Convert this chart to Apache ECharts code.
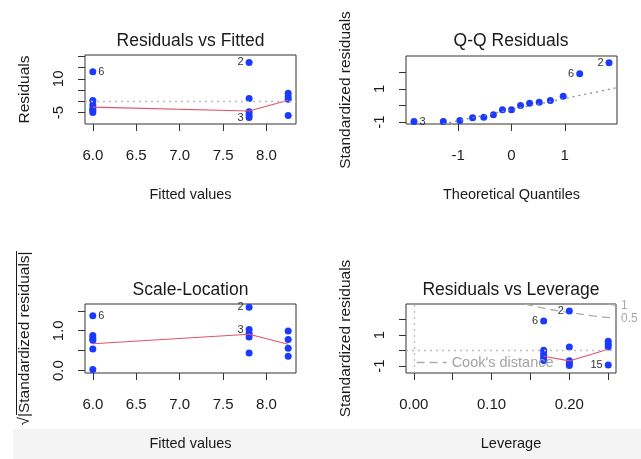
<!DOCTYPE html>
<html><head><meta charset="utf-8">
<script src="https://cdn.jsdelivr.net/npm/echarts@6/dist/echarts.min.js"></script>
<style>html,body{margin:0;padding:0;background:#fff}#c{width:641px;height:459px}</style>
</head><body><div id="c"></div>
<script>
// ---------------- data ----------------
// Panel 1: Residuals vs Fitted
const rvfX = [6.0, 6.0, 6.0, 6.0, 6.0, 6.0, 7.8, 7.8, 7.8, 7.8, 7.8, 8.25, 8.25, 8.25, 8.25];
const rvfY = [13.2, 0.4, -1.6, -3.2, -4.0, -5.0, 17.3, 1.2, -4.7, -6.0, -7.2, 3.6, 2.0, 0.9, -6.3];
const rvfId = ['6', '', '', '', '', '', '2', '', '', '', '3', '', '', '', ''];
const rvfSmoothX = [6.0, 7.8, 8.25];
const rvfSmoothY = [-2.6, -4.3, 0.5];
const rvfTicksX = [6.0, 6.5, 7.0, 7.5, 8.0];
const rvfLabelsX = [6.0, 6.5, 7.0, 7.5, 8.0];
const rvfTicksY = [-5, 0, 5, 10, 15, 20];
const rvfLabelsY = [-5, 10];

// Panel 2: Q-Q Residuals
const qqX = [-1.83, -1.28, -0.97, -0.73, -0.52, -0.34, -0.17, 0.0, 0.17, 0.34, 0.52, 0.73, 0.97, 1.28, 1.83];
const qqY = [-0.96, -0.96, -0.90, -0.74, -0.70, -0.56, -0.26, -0.25, 0.0, 0.14, 0.20, 0.30, 0.56, 1.90, 2.56];
const qqId = ['3', '', '', '', '', '', '', '', '', '', '', '', '', '6', '2'];
const qqLineX = [-1.28, 1.98];
const qqLineY = [-1.10, 1.07];
const qqTicksX = [-1, 0, 1];
const qqLabelsX = [-1, 0, 1];
const qqTicksY = [-1, 0, 1, 2];
const qqLabelsY = [-1, 1];

// Panel 3: Scale-Location
const slX = [6.0, 6.0, 6.0, 6.0, 6.0, 6.0, 7.8, 7.8, 7.8, 7.8, 7.8, 8.25, 8.25, 8.25, 8.25];
const slY = [1.375, 0.88, 0.81, 0.76, 0.54, 0.03, 1.59, 1.03, 0.93, 0.84, 0.44, 0.99, 0.78, 0.56, 0.36];
const slId = ['6', '', '', '', '', '', '2', '3', '', '', '', '', '', '', ''];
const slSmoothX = [6.0, 7.8, 8.25];
const slSmoothY = [0.675, 0.91, 0.66];
const slTicksY = [0, 0.5, 1.0, 1.5];
const slLabelsY = [0.0, 1.0];

// Panel 4: Residuals vs Leverage
const lvX = [0.167, 0.167, 0.167, 0.167, 0.167, 0.167, 0.2, 0.2, 0.2, 0.2, 0.2, 0.25, 0.25, 0.25, 0.25];
const lvY = [1.90, 0.02, -0.22, -0.42, -0.55, -0.65, 2.55, 0.23, -0.66, -0.82, -0.97, 0.60, 0.40, 0.22, -0.93];
const lvId = ['6', '', '', '', '', '', '2', '', '', '', '', '', '', '', '15'];
const lvSmoothX = [0.167, 0.2, 0.25];
const lvSmoothY = [-0.37, -0.67, 0.08];
const cook05X = [0.143, 0.17, 0.20, 0.23, 0.26];
const cook05Y = [3.00, 2.69, 2.45, 2.24, 2.07];
const cook1X = [0.25, 0.26];
const cook1Y = [3.00, 2.92];
const cookLevels = ['0.5', '1'];
const lvTicksX = [0, 0.05, 0.10, 0.15, 0.20, 0.25];
const lvLabelsX = [0, 0.10, 0.20];
const lvTicksY = [-1, 0, 1, 2];
const lvLabelsY = [-1, 1];

// ---------------- chart ----------------
const FONT = '"Liberation Sans", Arial, Helvetica, sans-serif';
const TXT = '#1a1a1a';
const PT = '#1a3aff';
const RED = '#DF536B';

const ranges = [
  {x: [5.91, 8.34], y: [-10.1, 20.6]},
  {x: [-1.98, 1.98], y: [-1.11, 2.97]},
  {x: [5.91, 8.34], y: [-0.06, 1.67]},
  {x: [-0.01, 0.26], y: [-1.45, 3.0]}
];

function zip(xs, ys) { return xs.map((x, i) => [x, ys[i]]); }

function pointData(xs, ys, ids, xr) {
  const mid = (xr[0] + xr[1]) / 2;
  return xs.map((x, i) => {
    const item = {value: [x, ys[i]]};
    if (ids[i]) {
      item.label = {
        show: true, formatter: ids[i], position: x < mid ? 'right' : 'left',
        distance: 2, fontSize: 11, fontFamily: FONT, color: '#333'
      };
    }
    return item;
  });
}

function xAxis(gi, ticks, labels, fmt, name) {
  return {
    type: 'value', gridIndex: gi, min: ranges[gi].x[0], max: ranges[gi].x[1],
    axisLine: {show: false, onZero: false}, splitLine: {show: false},
    axisTick: {show: true, length: 7, customValues: ticks, lineStyle: {color: '#333', width: 1}},
    axisLabel: {show: true, customValues: labels, formatter: fmt, margin: 24,
      fontSize: 15, fontFamily: FONT, color: TXT},
    name: name, nameLocation: 'middle', nameGap: 63,
    nameTextStyle: {fontSize: 14.5, fontFamily: FONT, color: TXT}
  };
}
function yAxis(gi, ticks, labels, fmt, name) {
  return {
    type: 'value', gridIndex: gi, min: ranges[gi].y[0], max: ranges[gi].y[1],
    axisLine: {show: false, onZero: false}, splitLine: {show: false},
    axisTick: {show: true, length: 7, customValues: ticks, lineStyle: {color: '#333', width: 1}},
    axisLabel: {show: true, customValues: labels, formatter: fmt, margin: 19, rotate: 90,
      fontSize: 15, fontFamily: FONT, color: TXT},
    name: name, nameLocation: 'middle', nameGap: 52,
    nameTextStyle: {fontSize: 15.5, fontFamily: FONT, color: TXT}
  };
}
const f1 = v => Number(v).toFixed(1);
const f2 = v => Number(v).toFixed(2);
const f0 = v => String(v);

const zeroLine = {
  silent: true, symbol: ['none', 'none'], label: {show: false},
  lineStyle: {type: [2, 4], color: '#bdbdbd', width: 1.3}, emphasis: {disabled: true}
};

function scatter(gi, data, mark) {
  const s = {type: 'scatter', xAxisIndex: gi, yAxisIndex: gi, data: data, symbolSize: 7,
    itemStyle: {color: PT, opacity: 1}, z: 2, silent: true};
  if (mark) s.markLine = Object.assign({}, zeroLine, {data: mark});
  return s;
}
function line(gi, data, style, extra) {
  return Object.assign({type: 'line', xAxisIndex: gi, yAxisIndex: gi, data: data, symbol: 'none',
    lineStyle: style, itemStyle: {color: style.color}, z: 3, silent: true, clip: true}, extra || {});
}

const grids = [
  {left: 85, top: 55, width: 211, height: 69},
  {left: 406, top: 56, width: 211, height: 68},
  {left: 85, top: 304, width: 211, height: 69},
  {left: 406, top: 304, width: 210, height: 69}
].map(g => Object.assign(g, {show: true, borderColor: '#333', borderWidth: 1,
  backgroundColor: 'transparent', containLabel: false, outerBoundsMode: 'none'}));

const cookStyle = {type: [8, 5], color: '#ababab', width: 1.3};
const cookLabel = txt => ({show: true, formatter: txt, distance: 5, fontSize: 12,
  fontFamily: FONT, color: '#a8a8a8'});

const titles = [
  ['Residuals vs Fitted', 190.5, 41],
  ['Q-Q Residuals', 511, 41],
  ['Scale-Location', 190.5, 290],
  ['Residuals vs Leverage', 511, 290]
];

const option = {
  animation: false,
  backgroundColor: '#ffffff',
  grid: grids,
  xAxis: [
    xAxis(0, rvfTicksX, rvfLabelsX, f1, 'Fitted values'),
    xAxis(1, qqTicksX, qqLabelsX, f0, 'Theoretical Quantiles'),
    xAxis(2, rvfTicksX, rvfLabelsX, f1, 'Fitted values'),
    xAxis(3, lvTicksX, lvLabelsX, f2, 'Leverage')
  ],
  yAxis: [
    yAxis(0, rvfTicksY, rvfLabelsY, f0, 'Residuals'),
    yAxis(1, qqTicksY, qqLabelsY, f0, 'Standardized residuals'),
    yAxis(2, slTicksY, slLabelsY, f1, '\u221A|Standardized residuals|'),
    yAxis(3, lvTicksY, lvLabelsY, f0, 'Standardized residuals')
  ],
  legend: {
    data: ["Cook's distance"], left: 416, top: 355, padding: 0, itemWidth: 30, itemHeight: 14,
    itemGap: 5, selectedMode: false,
    itemStyle: {opacity: 0},
    lineStyle: {color: '#ababab', type: [8, 5], width: 1.3},
    textStyle: {fontSize: 14.5, fontFamily: FONT, color: '#a3a3a3'}
  },
  graphic: [
    {type: 'rect', z: -100, silent: true, shape: {x: 13, y: 429, width: 628, height: 30},
      style: {fill: '#f4f4f4'}},
    // overbar of the square-root sign in the Scale-Location axis title
    {type: 'line', silent: true, shape: {x1: 16.5, y1: 251, x2: 16.5, y2: 415},
      style: {stroke: TXT, lineWidth: 1}}
  ].concat(titles.map(t => ({
    type: 'text', x: t[1], y: t[2], silent: true,
    style: {text: t[0], fontSize: 17.5, fontFamily: FONT, fill: TXT, align: 'center', verticalAlign: 'middle'}
  }))),
  series: [
    scatter(0, pointData(rvfX, rvfY, rvfId, ranges[0].x), [{yAxis: 0}]),
    line(0, zip(rvfSmoothX, rvfSmoothY), {color: RED, width: 1.1}),

    scatter(1, pointData(qqX, qqY, qqId, ranges[1].x)),
    line(1, zip(qqLineX, qqLineY), {color: '#8a8a8a', width: 1.3, type: [2, 4]}),

    scatter(2, pointData(slX, slY, slId, ranges[2].x)),
    line(2, zip(slSmoothX, slSmoothY), {color: RED, width: 1.1}),

    scatter(3, pointData(lvX, lvY, lvId, ranges[3].x), [{yAxis: 0}, {xAxis: 0}]),
    line(3, zip(lvSmoothX, lvSmoothY), {color: RED, width: 1.1}),
    line(3, zip(cook05X, cook05Y), cookStyle, {name: "Cook's distance", endLabel: cookLabel(cookLevels[0]), z: 1}),
    line(3, zip(cook1X, cook1Y), cookStyle, {name: "Cook's distance", endLabel: cookLabel(cookLevels[1]), z: 1})
  ]
};

const chart = echarts.init(document.getElementById('c'), null, {renderer: 'canvas'});
chart.setOption(option);
</script>
</body></html>
